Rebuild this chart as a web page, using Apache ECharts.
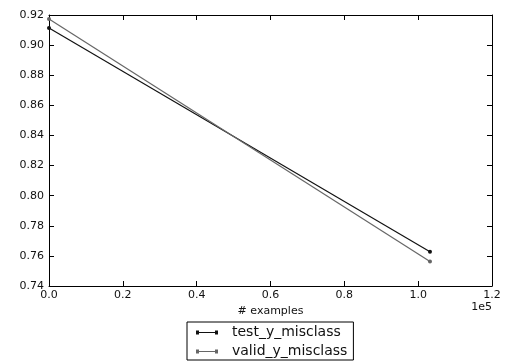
<!DOCTYPE html>
<html><head><meta charset="utf-8">
<script src="https://cdn.jsdelivr.net/npm/echarts@6/dist/echarts.min.js"></script>
<style>html,body{margin:0;padding:0;background:#fff}#c{width:511px;height:361px}</style>
</head><body><div id="c"></div>
<script>
const examples = [0, 103200];
const testMisclass = [0.9114, 0.7627];
const validMisclass = [0.9174, 0.7563];
const seriesNames = ['test_y_misclass', 'valid_y_misclass'];
const xTickScale = 1e5;

const chart = echarts.init(document.getElementById('c'), null, {renderer: 'canvas'});
const font = 'DejaVu Sans';
const iconPath = 'path://M0,0 h3 v4 h-3 Z M3,1.5 h16 v1 h-16 Z M19,0 h3 v4 h-3 Z';
const axisCommon = {
  axisLine: {show: true, onZero: false, lineStyle: {color: '#000', width: 1}},
  axisTick: {show: true, inside: true, length: 5, lineStyle: {color: '#000'}},
  splitLine: {show: false}
};
chart.setOption({
  backgroundColor: '#fff',
  animation: false,
  grid: {left: 49, right: 19, top: 15, bottom: 75, show: false},
  xAxis: [
    Object.assign({type: 'value', min: 0, max: 120000, interval: 20000, position: 'bottom',
      name: '# examples', nameLocation: 'middle', nameGap: 18,
      nameTextStyle: {fontFamily: font, fontSize: 11, color: '#111'},
      axisLabel: {fontFamily: font, fontSize: 11, color: '#111', margin: 4,
        formatter: v => (v / xTickScale).toFixed(1)}}, axisCommon),
    Object.assign({type: 'value', min: 0, max: 120000, interval: 20000, position: 'top',
      axisLabel: {show: false}}, axisCommon)
  ],
  yAxis: [
    Object.assign({type: 'value', min: 0.74, max: 0.92, interval: 0.02, position: 'left',
      axisLabel: {fontFamily: font, fontSize: 11, color: '#111', margin: 5,
        formatter: v => v.toFixed(2)}}, axisCommon),
    Object.assign({type: 'value', min: 0.74, max: 0.92, interval: 0.02, position: 'right',
      axisLabel: {show: false}}, axisCommon)
  ],
  title: {text: '1e5', right: 19, top: 302,
    textStyle: {fontFamily: font, fontSize: 11, fontWeight: 'normal', color: '#111'}, padding: 0},
  legend: {
    orient: 'vertical', left: 187, top: 322, height: 60,
    data: seriesNames.map(n => ({name: n, icon: iconPath})),
    itemWidth: 22, itemHeight: 4, itemGap: 2,
    padding: [2, 6, 0, 9],
    borderColor: '#000', borderWidth: 1, backgroundColor: '#fff',
    textStyle: {fontFamily: font, fontSize: 14, lineHeight: 17, color: '#111', padding: [0, 0, 0, 9]}
  },
  series: [
    {name: seriesNames[0], type: 'line', data: examples.map((x, i) => [x, testMisclass[i]]),
      color: '#111', lineStyle: {width: 1.2, color: '#111'}, symbol: 'circle', symbolSize: 4,
      itemStyle: {color: '#111'}},
    {name: seriesNames[1], type: 'line', data: examples.map((x, i) => [x, validMisclass[i]]),
      color: '#666', lineStyle: {width: 1.2, color: '#666'}, symbol: 'circle', symbolSize: 4,
      itemStyle: {color: '#666'}}
  ]
});
</script></body></html>
